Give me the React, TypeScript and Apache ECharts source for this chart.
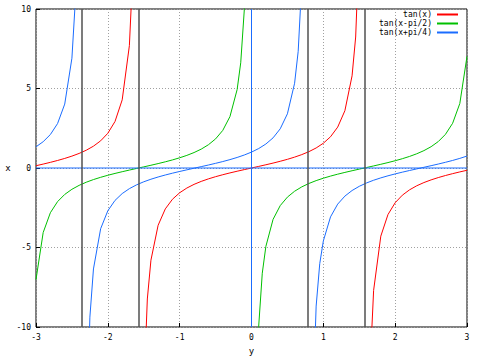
import React, { useEffect, useRef } from "react";
import * as echarts from "echarts";

const seriesNames = ["tan(x)", "tan(x-pi/2)", "tan(x+pi/4)"];
const seriesColors = ["#ff0000", "#00c000", "#1a6cff"];

const xTan = [-3.0, -2.9, -2.8, -2.7, -2.6, -2.5, -2.4, -2.3, -2.2, -2.1, -2.0, -1.9, -1.8, -1.7, -1.65, -1.6, -1.5708, -1.5, -1.45, -1.4, -1.3, -1.2, -1.1, -1.0, -0.9, -0.8, -0.7, -0.6, -0.5, -0.4, -0.3, -0.2, -0.1, 0.0, 0.1, 0.2, 0.3, 0.4, 0.5, 0.6, 0.7, 0.8, 0.9, 1.0, 1.1, 1.2, 1.3, 1.4, 1.45, 1.5, 1.5708, 1.6, 1.65, 1.7, 1.8, 1.9, 2.0, 2.1, 2.2, 2.3, 2.4, 2.5, 2.6, 2.7, 2.8, 2.9, 3.0];
const yTan = [0.1425, 0.2464, 0.3555, 0.4727, 0.6016, 0.747, 0.916, 1.1192, 1.3738, 1.7098, 2.185, 2.9271, 4.2863, 7.6966, 12.6, 34.23, null, -14.1, -8.238, -5.798, -3.602, -2.572, -1.965, -1.557, -1.26, -1.0296, -0.8423, -0.6841, -0.5463, -0.4228, -0.3093, -0.2027, -0.1003, 0, 0.1003, 0.2027, 0.3093, 0.4228, 0.5463, 0.6841, 0.8423, 1.0296, 1.2602, 1.5574, 1.9648, 2.5722, 3.6021, 5.7979, 8.238, 14.1014, null, -34.23, -12.6, -7.6966, -4.2863, -2.9271, -2.185, -1.7098, -1.3738, -1.1192, -0.916, -0.747, -0.6016, -0.4727, -0.3555, -0.2464, -0.1425];

const xCot = [-3.0, -2.9, -2.8, -2.7, -2.6, -2.5, -2.4, -2.3, -2.2, -2.1, -2.0, -1.9, -1.8, -1.7, -1.6, -1.5, -1.4, -1.3, -1.2, -1.1, -1.0, -0.9, -0.8, -0.7, -0.6, -0.5, -0.4, -0.3, -0.2, -0.15, -0.1, -0.05, 0.0, 0.05, 0.1, 0.15, 0.2, 0.3, 0.4, 0.5, 0.6, 0.7, 0.8, 0.9, 1.0, 1.1, 1.2, 1.3, 1.4, 1.5, 1.6, 1.7, 1.8, 1.9, 2.0, 2.1, 2.2, 2.3, 2.4, 2.5, 2.6, 2.7, 2.8, 2.9, 3.0];
const yCot = [-7.018, -4.058, -2.813, -2.115, -1.662, -1.339, -1.092, -0.8935, -0.7279, -0.5849, -0.4577, -0.3416, -0.2333, -0.1299, -0.0292, 0.0709, 0.1725, 0.2776, 0.3888, 0.509, 0.6421, 0.7936, 0.9712, 1.187, 1.462, 1.83, 2.365, 3.233, 4.933, 6.617, 9.967, 19.98, null, -19.98, -9.967, -6.617, -4.933, -3.233, -2.365, -1.83, -1.462, -1.187, -0.9712, -0.7936, -0.6421, -0.509, -0.3888, -0.2776, -0.1725, -0.0709, 0.0292, 0.1299, 0.2333, 0.3416, 0.4577, 0.5849, 0.7279, 0.8935, 1.092, 1.339, 1.662, 2.115, 2.813, 4.058, 7.018];

const xShift = [-3.0, -2.9, -2.8, -2.7, -2.6, -2.5, -2.45, -2.4, -2.3562, -2.3, -2.25, -2.2, -2.1, -2.0, -1.9, -1.8, -1.7, -1.6, -1.5, -1.4, -1.3, -1.2, -1.1, -1.0, -0.9, -0.8, -0.7, -0.6, -0.5, -0.4, -0.3, -0.2, -0.1, 0.0, 0.1, 0.2, 0.3, 0.4, 0.5, 0.6, 0.65, 0.7, 0.75, 0.7854, 0.8, 0.85, 0.9, 0.95, 1.0, 1.1, 1.2, 1.3, 1.4, 1.5, 1.6, 1.7, 1.8, 1.9, 2.0, 2.1, 2.2, 2.3, 2.4, 2.5, 2.6, 2.7, 2.8, 2.9, 3.0];
const yShift = [1.3324, 1.6539, 2.1032, 2.7929, 4.02, 6.905, 10.71, 22.81, null, -17.78, -9.382, -6.35, -3.818, -2.688, -2.0378, -1.6086, -1.2987, -1.0602, -0.8675, -0.7058, -0.5654, -0.4401, -0.3255, -0.218, -0.1151, -0.0146, 0.0856, 0.1876, 0.2934, 0.4057, 0.5275, 0.6629, 0.8177, 1, 1.223, 1.5085, 1.8956, 2.465, 3.4082, 5.331, 7.34, 11.68, 28.24, null, -68.48, -15.46, -8.686, -6.02, -4.588, -3.073, -2.272, -1.7686, -1.4168, -1.1527, -0.9432, -0.77, -0.6217, -0.4907, -0.3721, -0.2619, -0.1575, -0.0562, 0.0438, 0.1448, 0.2488, 0.3581, 0.4755, 0.6046, 0.7505];

const jumpLines = [-2.3562, -1.5708, 0.7854, 1.5708];
const zeroHoriz = [[-3, 0], [3, 0]];
const zeroVert = [[0, -10], [0, 10]];

const toData = (xs: number[], ys: (number | null)[]) =>
  xs.map((x, i) => [x, ys[i] === null ? "-" : ys[i]]);

const FONT = "DejaVu Sans Mono";
const ZERO_COLOR = "#1a6cff";

export default function App() {
  const ref = useRef<HTMLDivElement>(null);
  useEffect(() => {
    if (!ref.current) return;
    const chart = echarts.init(ref.current, null, { renderer: "svg" });
    const datasets = [toData(xTan, yTan), toData(xCot, yCot), toData(xShift, yShift)];
    const series: any[] = datasets.map((d, i) => ({
      name: seriesNames[i],
      type: "line",
      data: d,
      showSymbol: false,
      connectNulls: false,
      clip: true,
      lineStyle: { color: seriesColors[i], width: 1 },
      itemStyle: { color: seriesColors[i] },
      z: 3,
    }));
    series[0].markLine = {
      silent: true,
      symbol: "none",
      label: { show: false },
      animation: false,
      lineStyle: { color: "#505050", width: 1.5, type: "solid" },
      data: jumpLines.map((v) => ({ xAxis: v })),
    };
    [zeroHoriz, zeroVert].forEach((d, k) => {
      series.push({
        name: "zero" + k,
        type: "line",
        data: d,
        showSymbol: false,
        silent: true,
        lineStyle: { color: ZERO_COLOR, width: 1, type: "solid" },
        itemStyle: { color: ZERO_COLOR },
        z: 4,
      });
    });
    chart.setOption({
      animation: false,
      backgroundColor: "#ffffff",
      grid: {
        left: 36,
        right: 13,
        top: 9,
        bottom: 28,
        show: true,
        borderColor: "#000000",
        borderWidth: 1,
      },
      legend: {
        orient: "vertical",
        right: 22,
        top: 10,
        padding: 0,
        align: "right",
        itemWidth: 21,
        itemHeight: 2,
        itemGap: 0,
        icon: "rect",
        textStyle: { fontFamily: FONT, fontSize: 8, color: "#000", lineHeight: 9 },
        data: seriesNames,
      },
      xAxis: {
        type: "value",
        min: -3,
        max: 3,
        interval: 1,
        name: "y",
        nameLocation: "middle",
        nameGap: 19,
        nameTextStyle: { fontFamily: FONT, fontSize: 9, color: "#000" },
        axisLine: { show: false, onZero: false },
        axisTick: { show: true, inside: true, length: 4, lineStyle: { color: "#000" } },
        axisLabel: { fontFamily: FONT, fontSize: 8, color: "#000", margin: 6 },
        splitLine: { show: true, lineStyle: { color: "#a0a0a0", type: [1, 2] } },
      },
      yAxis: {
        type: "value",
        min: -10,
        max: 10,
        interval: 5,
        name: "x",
        nameLocation: "middle",
        nameGap: 22,
        nameRotate: 0,
        nameTextStyle: { fontFamily: FONT, fontSize: 9, color: "#000" },
        axisLine: { show: false, onZero: false },
        axisTick: { show: true, inside: true, length: 4, lineStyle: { color: "#000" } },
        axisLabel: { fontFamily: FONT, fontSize: 8, color: "#000", margin: 5 },
        splitLine: { show: true, lineStyle: { color: "#a0a0a0", type: [1, 2] } },
      },
      series,
    });
    return () => chart.dispose();
  }, []);
  return (
    <div
      ref={ref}
      style={{ position: "fixed", left: 0, top: 0, width: 480, height: 360, background: "#fff" }}
    />
  );
}
